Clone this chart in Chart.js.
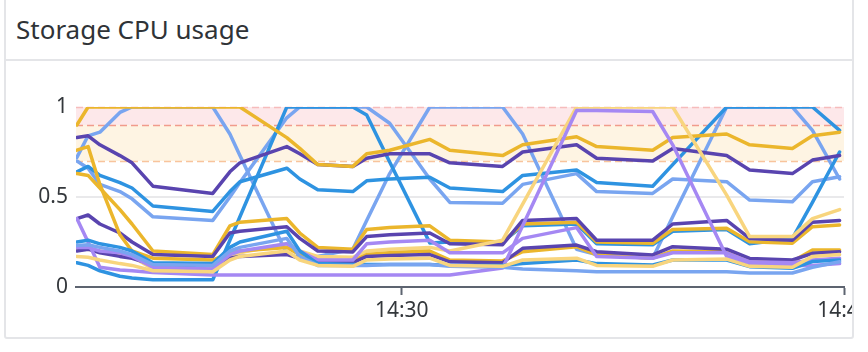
<!DOCTYPE html>
<html>
<head>
<meta charset="utf-8">
<script src="https://cdn.jsdelivr.net/npm/chart.js@4.4.1/dist/chart.umd.min.js"></script>
<style>
  html, body { margin: 0; padding: 0; background: #fff; }
  body { width: 868px; height: 352px; position: relative; overflow: hidden; font-family: "Noto Sans", sans-serif; }
  .card { position: absolute; left: 4px; top: -4px; width: 846px; height: 339px; border: 2px solid #e4e5e8; border-radius: 3px; }
  .divider { position: absolute; left: 6px; top: 59px; width: 846px; height: 2px; background: #e4e5e8; }
  .title { position: absolute; left: 16px; top: 16px; font-size: 26px; line-height: 26px; color: #2f3337; }
  .plot { position: absolute; left: 0; top: 62px; width: 852px; height: 274px; overflow: hidden; }
  canvas { display: block; }
</style>
</head>
<body>
<div class="card"></div>
<div class="divider"></div>
<div class="title">Storage CPU usage</div>
<div class="plot"><canvas id="cpuChart" width="890" height="274"></canvas></div>

<script>
// sample times, minutes after 14:00
var times = [18.98, 19.36, 19.76, 20.44, 20.85, 21.56, 23.59, 24.17, 24.51, 26.10, 26.54, 27.15, 28.34, 28.81,
             29.59, 30.95, 31.63, 33.42, 34.10, 35.93, 36.61, 38.51, 39.19, 41.02, 41.80, 43.25, 43.93, 44.85];

// cpu usage per storage host (0..1)
var hostA = [0.90, 1.0, 1.0, 1.0, 1.0, 1.0, 1.0, 1.0, 1.0, 0.83, 0.77, 0.68, 0.67, 0.74, 0.76, 0.82, 0.76, 0.73, 0.79, 0.835, 0.78, 0.76, 0.83, 0.85, 0.79, 0.77, 0.84, 0.86];
var hostB = [0.83, 0.84, 0.79, 0.73, 0.69, 0.56, 0.52, 0.64, 0.69, 0.78, 0.74, 0.68, 0.67, 0.715, 0.74, 0.74, 0.69, 0.67, 0.75, 0.79, 0.715, 0.70, 0.77, 0.73, 0.65, 0.63, 0.705, 0.73];
var hostC = [0.64, 0.67, 0.62, 0.58, 0.55, 0.45, 0.42, 0.53, 0.585, 0.66, 0.60, 0.54, 0.53, 0.59, 0.60, 0.61, 0.55, 0.53, 0.62, 0.65, 0.58, 0.56, 0.68, 1.0, 1.0, 1.0, 1.0, 0.87];
var hostD = [0.63, 0.62, 0.55, 0.43, 0.35, 0.20, 0.18, 0.34, 0.36, 0.38, 0.30, 0.22, 0.21, 0.32, 0.33, 0.34, 0.26, 0.25, 0.35, 0.36, 0.25, 0.243, 0.32, 0.326, 0.252, 0.243, 0.335, 0.345];
var hostE = [0.38, 0.40, 0.35, 0.30, 0.25, 0.18, 0.17, 0.30, 0.31, 0.335, 0.27, 0.20, 0.195, 0.28, 0.29, 0.30, 0.24, 0.235, 0.37, 0.38, 0.26, 0.26, 0.35, 0.37, 0.27, 0.26, 0.36, 0.37];
var hostF = [0.25, 0.26, 0.24, 0.22, 0.20, 0.135, 0.13, 0.22, 0.25, 0.31, 0.20, 0.13, 0.125, 0.125, 0.125, 0.125, 0.12, 0.12, 0.13, 0.15, 0.13, 0.122, 0.15, 0.15, 0.113, 0.104, 0.141, 0.15];
var hostG = [0.70, 0.66, 0.57, 0.53, 0.49, 0.39, 0.37, 0.50, 0.58, 0.94, 1.0, 1.0, 1.0, 1.0, 0.91, 0.60, 0.47, 0.465, 0.57, 0.63, 0.53, 0.52, 0.60, 0.585, 0.483, 0.474, 0.585, 0.613];
var hostH = [0.76, 0.78, 0.57, 0.29, 0.20, 0.16, 0.15, 0.19, 0.20, 0.22, 0.18, 0.15, 0.145, 0.18, 0.19, 0.20, 0.15, 0.145, 0.196, 0.224, 0.178, 0.16, 0.20, 0.196, 0.15, 0.141, 0.205, 0.205];
var hostI = [0.20, 0.21, 0.19, 0.17, 0.16, 0.125, 0.12, 0.16, 0.17, 0.18, 0.16, 0.14, 0.135, 0.17, 0.175, 0.18, 0.14, 0.135, 0.215, 0.233, 0.196, 0.178, 0.224, 0.21, 0.159, 0.15, 0.187, 0.196];
var hostJ = [0.21, 0.21, 0.20, 0.18, 0.17, 0.10, 0.10, 0.17, 0.19, 0.24, 0.20, 0.17, 0.165, 0.20, 0.21, 0.22, 0.20, 0.26, 0.46, 1.0, 1.0, 1.0, 1.0, 0.51, 0.28, 0.28, 0.38, 0.43];
var hostK = [0.38, 0.25, 0.11, 0.095, 0.09, 0.08, 0.066, 0.066, 0.066, 0.067, 0.067, 0.067, 0.067, 0.067, 0.067, 0.067, 0.067, 0.105, 0.34, 0.98, 0.98, 0.975, 0.79, 0.17, 0.13, 0.12, 0.12, 0.13];
var hostM = [0.22, 0.22, 0.20, 0.19, 0.17, 0.11, 0.10, 0.18, 0.20, 0.24, 0.20, 0.15, 0.15, 0.24, 0.25, 0.26, 0.19, 0.19, 0.27, 0.33, 0.17, 0.16, 0.19, 0.19, 0.14, 0.135, 0.15, 0.16];
var hostN = [0.23, 0.235, 0.22, 0.20, 0.18, 0.125, 0.12, 0.20, 0.22, 0.27, 0.17, 0.12, 0.12, 0.12, 0.125, 0.125, 0.115, 0.11, 0.10, 0.09, 0.085, 0.085, 0.085, 0.085, 0.078, 0.078, 0.11, 0.14];
var hostO = [0.17, 0.165, 0.15, 0.13, 0.12, 0.09, 0.085, 0.15, 0.17, 0.20, 0.15, 0.12, 0.115, 0.15, 0.155, 0.16, 0.12, 0.115, 0.15, 0.16, 0.12, 0.115, 0.15, 0.155, 0.115, 0.11, 0.17, 0.18];
var hostS1 = [0.72, 0.84, 0.86, 0.97, 1.0, 1.0, 1.0, 0.85, 0.73, 0.185, 0.16, 0.17, 0.21, 0.37, 0.63, 1.0, 1.0, 1.0, 0.85, 0.21, 0.18, 0.16, 0.39, 1.0, 1.0, 1.0, 0.87, 0.60];
var hostS2 = [0.135, 0.12, 0.09, 0.06, 0.05, 0.04, 0.04, 0.26, 0.39, 1.0, 1.0, 1.0, 1.0, 0.955, 0.695, 0.245, 0.25, 0.25, 0.34, 0.35, 0.24, 0.235, 0.31, 0.32, 0.24, 0.27, 0.47, 0.75];

var yTicks = [0, 0.5, 1];
var xTicks = [30, 45];          // 14:30, 14:45
var warnBand = [0.7, 0.9];
var critBand = [0.9, 1.0];

var gold = '#ebb62c', paleYellow = '#f8d57e', indigo = '#5944af',
    azure = '#2e93e1', periwinkle = '#79a5f0', lavender = '#a588f3';

function series(name, values, color) {
  return {
    label: name,
    data: values.map(function(v, i) { return { x: times[i], y: v }; }),
    borderColor: color,
    borderWidth: 3.5,
    pointRadius: 0,
    tension: 0,
    fill: false,
    borderJoinStyle: 'round',
    borderCapStyle: 'round'
  };
}

// threshold bands and dashed markers
var thresholds = {
  id: 'thresholds',
  beforeDatasetsDraw: function(chart) {
    var ctx = chart.ctx, a = chart.chartArea, y = chart.scales.y;
    ctx.save();
    ctx.fillStyle = '#fef4e3';
    ctx.fillRect(a.left, y.getPixelForValue(warnBand[1]), a.right - a.left,
      y.getPixelForValue(warnBand[0]) - y.getPixelForValue(warnBand[1]));
    ctx.fillStyle = '#fde8ea';
    ctx.fillRect(a.left, y.getPixelForValue(critBand[1]), a.right - a.left,
      y.getPixelForValue(critBand[0]) - y.getPixelForValue(critBand[1]));
    ctx.lineWidth = 1.5;
    ctx.setLineDash([7, 4]);
    [[critBand[1], '#f6bcbc'], [critBand[0], '#f19b8c'], [warnBand[0], '#f8c49c']].forEach(function(d) {
      var py = Math.round(y.getPixelForValue(d[0])) + 0.5;
      ctx.strokeStyle = d[1];
      ctx.beginPath();
      ctx.moveTo(a.left, py);
      ctx.lineTo(a.right, py);
      ctx.stroke();
    });
    ctx.restore();
  }
};

Chart.defaults.font.family = '"Noto Sans", sans-serif';
Chart.defaults.font.size = 21;
Chart.defaults.color = '#33373b';

new Chart(document.getElementById('cpuChart').getContext('2d'), {
  type: 'line',
  data: {
    datasets: [
      series('storage-o', hostO, paleYellow),
      series('storage-n', hostN, periwinkle),
      series('storage-f', hostF, azure),
      series('storage-m', hostM, lavender),
      series('storage-k', hostK, lavender),
      series('storage-i', hostI, indigo),
      series('storage-h', hostH, gold),
      series('storage-j', hostJ, paleYellow),
      series('storage-e', hostE, indigo),
      series('storage-d', hostD, gold),
      series('storage-a', hostA, gold),
      series('storage-b', hostB, indigo),
      series('storage-s2', hostS2, azure),
      series('storage-c', hostC, azure),
      series('storage-g', hostG, periwinkle),
      series('storage-s1', hostS1, periwinkle)
    ]
  },
  options: {
    responsive: false,
    animation: false,
    devicePixelRatio: 1,
    layout: { padding: { left: 0, right: 46, top: 45, bottom: 0 } },
    plugins: { legend: { display: false }, tooltip: { enabled: false } },
    scales: {
      x: {
        type: 'linear',
        min: 18.95,
        max: 45,
        afterBuildTicks: function(axis) { axis.ticks = xTicks.map(function(v) { return { value: v }; }); },
        afterFit: function(axis) { axis.height = 49; },
        ticks: {
          padding: 3,
          maxRotation: 0,
          callback: function(v) { return '14:' + String(Math.round(v)).padStart(2, '0'); }
        },
        grid: { drawOnChartArea: false, tickLength: 8, tickColor: '#5d6470', tickWidth: 2 },
        border: { display: true, color: '#5d6470', width: 2 }
      },
      y: {
        min: 0,
        max: 1,
        afterBuildTicks: function(axis) { axis.ticks = yTicks.map(function(v) { return { value: v }; }); },
        afterFit: function(axis) { axis.width = 76; },
        ticks: { padding: 8, callback: function(v) { return String(v); } },
        grid: {
          drawTicks: false,
          lineWidth: 2,
          color: function(c) { return c.tick && c.tick.value === 0.5 ? '#e9e9eb' : 'rgba(0,0,0,0)'; }
        },
        border: { display: false }
      }
    }
  },
  plugins: [thresholds]
});
</script>
</body>
</html>
